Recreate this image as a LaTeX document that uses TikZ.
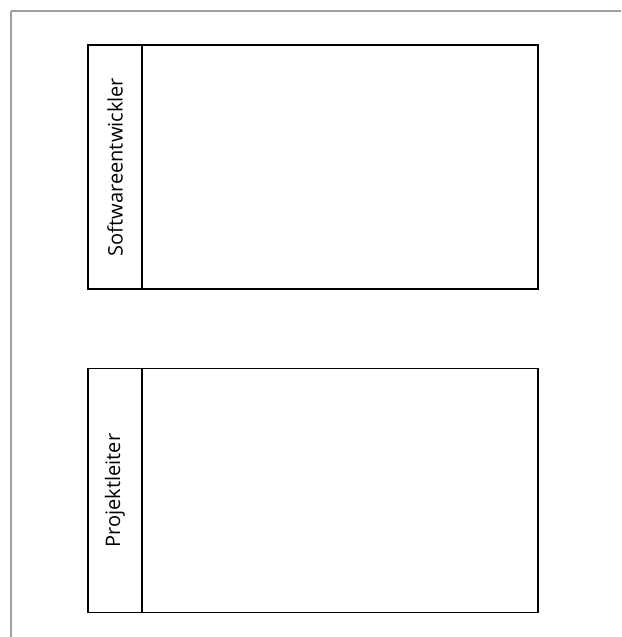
\documentclass[tikz,border=0pt]{standalone}
\usepackage{fontspec}
\setmainfont{Open Sans}
\usetikzlibrary{positioning}

\tikzset{
    lanebody/.style={draw, line width=1.9pt, minimum width=396pt, minimum height=244pt, inner sep=0pt, outer sep=0pt},
    lanehead/.style={draw, line width=1.9pt, rotate=90, anchor=south, minimum width=244pt, minimum height=54pt, inner sep=0pt, outer sep=0pt, font=\fontsize{20}{24}\selectfont},
}

\begin{document}
\begin{tikzpicture}[x=1pt, y=1pt]
    \useasboundingbox (0,0) rectangle (621,637);

    % Page frame
    \coordinate (framecorner) at (11,626);
    \draw[line width=1.4pt, gray!75] (framecorner) -- (621,626);
    \draw[line width=1.4pt, gray!75] (framecorner) -- (11,0);

    % Lane Softwareentwickler
    \node[lanebody] (devlane) at (340,470) {};
    \node[lanehead] (devhead) at (devlane.west) {Softwareentwickler};

    % Lane Projektleiter
    \node[lanebody] (pmlane) at (340,146.5) {};
    \node[lanehead] (pmhead) at (pmlane.west) {Projektleiter};
\end{tikzpicture}
\end{document}
